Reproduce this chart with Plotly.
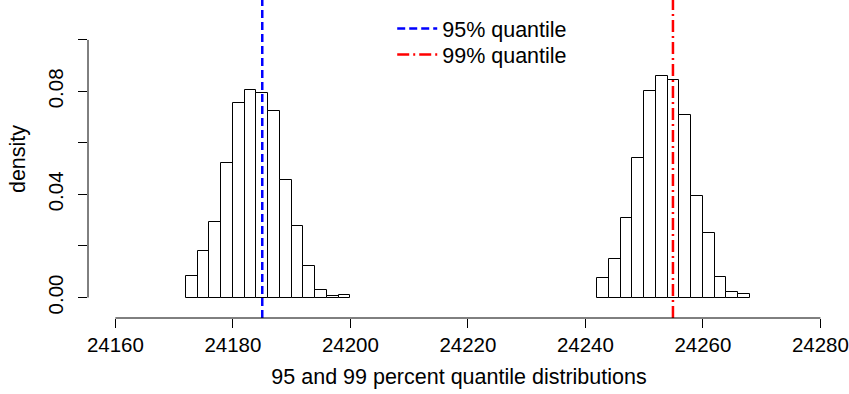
import plotly.graph_objects as go

# ---- data ----
bin_width = 2
q95_breaks_start = 24172
q95_density = [0.0085, 0.0182, 0.0292, 0.0521, 0.0754, 0.0805, 0.0793,
               0.0723, 0.0456, 0.0279, 0.0121, 0.0030, 0.0005, 0.0010]
q99_breaks_start = 24242
q99_density = [0.0075, 0.0151, 0.0308, 0.0541, 0.0803, 0.0860, 0.0843,
               0.0708, 0.0394, 0.0252, 0.0080, 0.0020, 0.0015]
q95_value = 24185.0
q99_value = 24254.9

x_tickvals = [24160, 24180, 24200, 24220, 24240, 24260, 24280]
y_tickvals = [0.00, 0.02, 0.04, 0.06, 0.08, 0.10]
y_ticktext = ["0.00", "", "0.04", "", "0.08", ""]

X_RANGE = [24155.34, 24281.63]
Y_RANGE = [-0.00796, 0.1155]

FONT = "Liberation Sans, Arial, Helvetica, sans-serif"

fig = go.Figure()

for start, dens in ((q95_breaks_start, q95_density), (q99_breaks_start, q99_density)):
    centers = [start + bin_width * (i + 0.5) for i in range(len(dens))]
    fig.add_trace(go.Bar(
        x=centers, y=dens, width=bin_width,
        marker=dict(color="white", line=dict(color="black", width=1)),
        showlegend=False, hoverinfo="skip",
    ))

fig.add_trace(go.Scatter(
    x=[q95_value, q95_value], y=Y_RANGE, mode="lines",
    line=dict(color="#0000ff", width=2.5, dash="8px,4px"),
    name="95% quantile", cliponaxis=True, legend="legend",
))
fig.add_trace(go.Scatter(
    x=[q99_value, q99_value], y=Y_RANGE, mode="lines",
    line=dict(color="#ff0000", width=2.5, dash="12px,4px,2px,4px"),
    name="99% quantile", cliponaxis=True, legend="legend2",
))

# axis lines restricted to the tick range (R style)
fig.add_shape(type="line", xref="x", yref="paper", x0=x_tickvals[0], x1=x_tickvals[-1],
              y0=0, y1=0, line=dict(color="black", width=1))
fig.add_shape(type="line", xref="paper", yref="y", x0=0, x1=0,
              y0=y_tickvals[0], y1=y_tickvals[-1], line=dict(color="black", width=1))

legend_style = dict(xanchor="left", yanchor="top", bgcolor="rgba(0,0,0,0)",
                    font=dict(size=21.5), tracegroupgap=0, itemwidth=40)

fig.update_layout(
    width=849, height=394,
    margin=dict(l=88, r=19, t=0, b=76, autoexpand=False),
    paper_bgcolor="white", plot_bgcolor="white",
    font=dict(family=FONT, size=20.5, color="black"),
    bargap=0,
    barmode="overlay",
    xaxis=dict(
        range=X_RANGE, showgrid=False, zeroline=False, showline=False,
        automargin=False,
        tickmode="array", tickvals=x_tickvals,
        ticktext=[str(v) for v in x_tickvals],
        ticks="outside", ticklen=9, tickcolor="black", tickwidth=1,
        tickfont=dict(size=20.5), ticklabelstandoff=-1,
        title=dict(text="95 and 99 percent quantile distributions",
                   font=dict(size=21.5), standoff=14),
    ),
    yaxis=dict(
        range=Y_RANGE, showgrid=False, zeroline=False, showline=False,
        automargin=False,
        tickmode="array", tickvals=y_tickvals, ticktext=y_ticktext,
        ticks="outside", ticklen=9, tickcolor="black", tickwidth=1,
        tickangle=-90, tickfont=dict(size=20.5), ticklabelstandoff=7,
        title=dict(text="density", font=dict(size=21.5), standoff=12),
    ),
    legend=dict(x=0.410, y=0.975, **legend_style),
    legend2=dict(x=0.410, y=0.8932, **legend_style),
)

fig.write_html("out.html", config={"displayModeBar": False},
               post_script="document.body.style.margin='0';")
